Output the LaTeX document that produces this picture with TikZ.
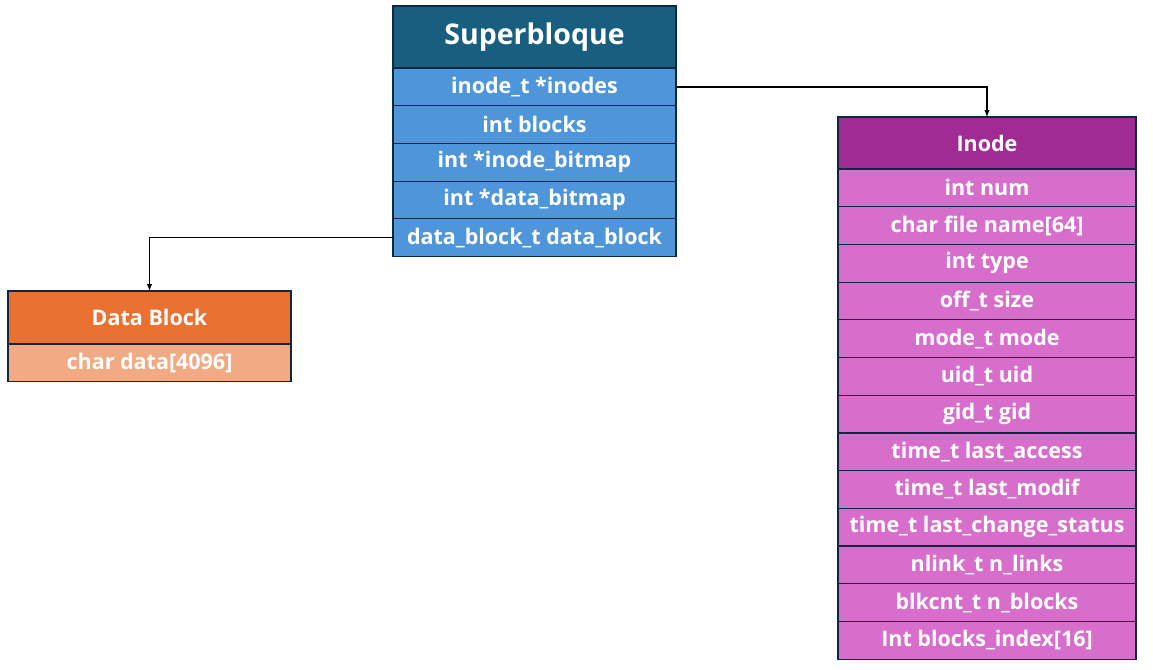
\documentclass[tikz,border=0pt]{standalone}
\usepackage{fontspec}
\setmainfont{Open Sans}
\usetikzlibrary{chains,positioning}
\definecolor{frameblue}{HTML}{0E2841}
\definecolor{sbhead}{HTML}{185E7E}
\definecolor{sbrow}{HTML}{4E95D9}
\definecolor{dbhead}{HTML}{E97132}
\definecolor{dbrow}{HTML}{F2AA84}
\definecolor{inhead}{HTML}{A02B93}
\definecolor{inrow}{HTML}{D86ECC}
\tikzset{
  struct schemes/.style = {
    x = 1pt, y = 1pt,
    node distance = 0mm,
    % Ячейка структуры
    field/.style = {
      draw = frameblue, line width = 1.2pt,
      outer sep = 0pt, inner sep = 0pt,
      text = white, minimum height = 37.7pt,
      font = \fontsize{21.5}{24}\selectfont\bfseries,
      on chain
    },
    head/.style = { minimum height = ##1 }, head/.default = 53pt,
    % Линии, стрелки
    connect line/.style = {line width = 1.4pt, black, -latex},
  },
  struct style/.style 2 args = {
    start chain = #1 going below,
    every node/.style = { field, minimum width = #2 }
  }
}
\begin{document}
\begin{tikzpicture}[struct schemes]
\useasboundingbox (0,0) rectangle (1153,-669);

  \begin{scope}[struct style={sb}{283pt}]
    \node[head=62pt, fill=sbhead, anchor=north west,
          font=\fontsize{28.5}{32}\selectfont\bfseries] at (393,-6) {Superbloque};
    \node[fill=sbrow] {inode\_t *inodes};
    \node[fill=sbrow] {int blocks};
    \node[fill=sbrow] {int *inode\_bitmap};
    \node[fill=sbrow] {int *data\_bitmap};
    \node[fill=sbrow] {data\_block\_t data\_block};
  \end{scope}

  \begin{scope}[struct style={db}{283pt}]
    \node[head, fill=dbhead, anchor=north west] at (8,-291) {Data Block};
    \node[fill=dbrow] {char data[4096]};
  \end{scope}

  \begin{scope}[struct style={in}{298pt}]
    \node[head=52pt, fill=inhead, anchor=north west] at (838,-117) {Inode};
    \foreach \f in {int num, char file name[64], int type, off\_t size,
        mode\_t mode, uid\_t uid, gid\_t gid, time\_t last\_access,
        time\_t last\_modif, time\_t last\_change\_status,
        nlink\_t n\_links, blkcnt\_t n\_blocks, Int blocks\_index[16]}
      \node[fill=inrow] {\f};
  \end{scope}

\draw[connect line] (sb-2.east) -| (in-1.north);
\draw[connect line] (sb-6.west) -| (db-1.north);

\end{tikzpicture}
\end{document}
